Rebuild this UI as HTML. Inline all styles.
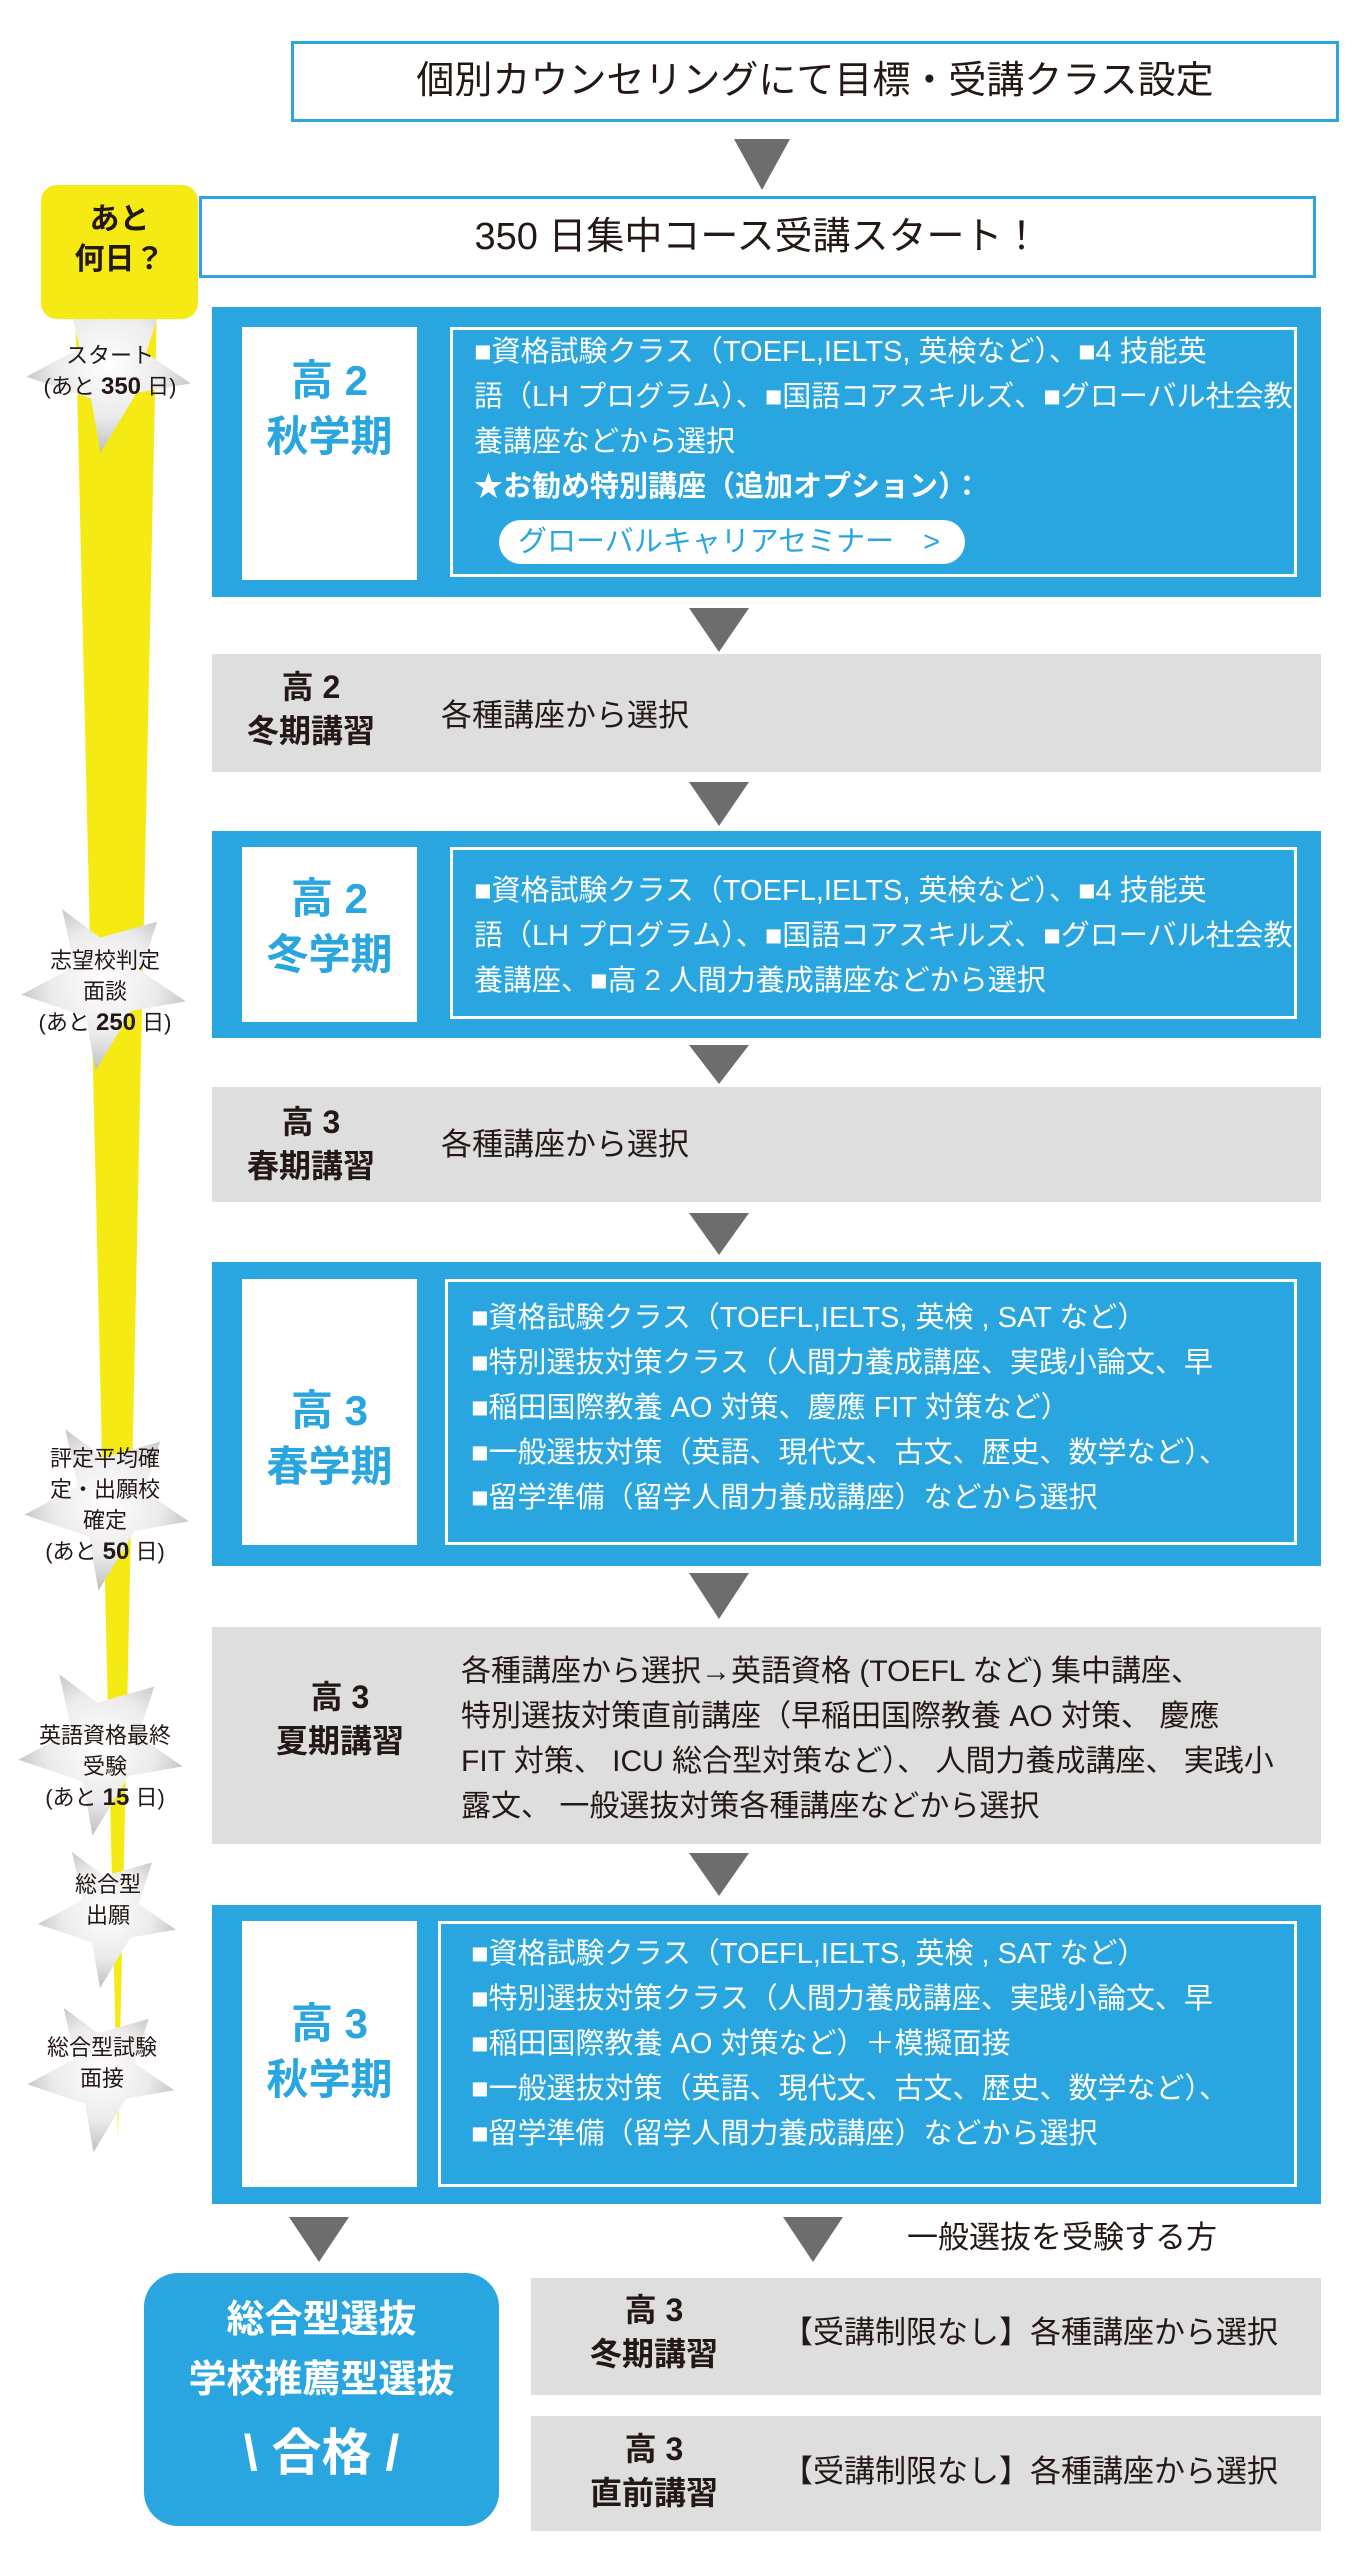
<!DOCTYPE html>
<html><head><meta charset="utf-8">
<style>
*{margin:0;padding:0;box-sizing:border-box}
body{width:1357px;height:2558px;position:relative;background:#fff;font-family:"Liberation Sans","Noto Sans CJK JP",sans-serif;color:#231815;overflow:hidden}
.a{position:absolute}
.blue{background:#29a6df}
.gray{background:#dedede}
.wb{background:#fff}
.ib{border:3px solid #fff}
.t{position:absolute;white-space:nowrap}
.bt{color:#fff;font-size:29px;letter-spacing:0;line-height:45px}
.lab{color:#29a6df;font-weight:bold;font-size:42px;text-align:center;line-height:56px}
.gl{font-weight:bold;font-size:32px;text-align:center;line-height:44px}
.st{position:absolute;text-align:center;font-size:22px;line-height:31px;color:#231815;white-space:nowrap}
.st b{font-size:24px}
</style></head><body>
<svg class="a" style="left:0;top:0" width="1357" height="2558">
<defs>
<radialGradient id="g" cx="0.5" cy="0.45" r="0.6"><stop offset="0" stop-color="#ffffff"/><stop offset="0.55" stop-color="#ebebeb"/><stop offset="1" stop-color="#b5b5b5"/></radialGradient>
<polygon id="s" points="-45,-85 -5,-55 55,-72 38,-20 85,12 28,22 -10,85 -20,28 -88,5 -32,-25" fill="url(#g)"/>
</defs>
<polygon points="75,300 157,300 118,2140" fill="#f5ea14"/>
<polygon points="734,139 790,139 762,190" fill="#6d6d6d"/>
<polygon points="689,608 749,608 719,652" fill="#6d6d6d"/>
<polygon points="689,782 749,782 719,826" fill="#6d6d6d"/>
<polygon points="689,1045 749,1045 719,1084" fill="#6d6d6d"/>
<polygon points="689,1213 749,1213 719,1255" fill="#6d6d6d"/>
<polygon points="689,1573 749,1573 719,1619" fill="#6d6d6d"/>
<polygon points="689,1853 749,1853 719,1896" fill="#6d6d6d"/>
<polygon points="289,2217 349,2217 319,2262" fill="#6d6d6d"/>
<polygon points="783,2217 843,2217 813,2262" fill="#6d6d6d"/>
<use href="#s" transform="translate(110,372) scale(0.95)"/>
<use href="#s" transform="translate(105,990) scale(0.95)"/>
<use href="#s" transform="translate(108,1510) scale(0.95)"/>
<use href="#s" transform="translate(102,1755) scale(0.95)"/>
<use href="#s" transform="translate(108,1920) scale(0.8)"/>
<use href="#s" transform="translate(102,2080) scale(0.85)"/>
</svg>

<div class="a" style="left:291px;top:41px;width:1048px;height:81px;border:3px solid #29a6df"></div>
<div class="t" style="left:291px;top:41px;width:1048px;line-height:81px;text-align:center;font-size:38px">個別カウンセリングにて目標・受講クラス設定</div>
<div class="a" style="left:41px;top:185px;width:157px;height:134px;background:#f5ea14;border-radius:16px"></div>
<div class="t" style="left:41px;top:200px;width:157px;text-align:center;font-weight:bold;font-size:30px;line-height:40px">あと<br>何日？</div>
<div class="a" style="left:199px;top:196px;width:1117px;height:82px;border:3px solid #29a6df;background:#fff"></div>
<div class="t" style="left:199px;top:196px;width:1117px;line-height:82px;text-align:center;font-size:38px">350 日集中コース受講スタート！</div>

<div class="a blue" style="left:212px;top:307px;width:1109px;height:290px"></div>
<div class="a wb" style="left:242px;top:327px;width:175px;height:253px"></div>
<div class="t lab" style="left:242px;top:353px;width:175px">高 2<br>秋学期</div>
<div class="a ib" style="left:450px;top:327px;width:847px;height:250px"></div>
<div class="t bt" style="left:474px;top:330px">■資格試験クラス（TOEFL,IELTS, 英検など）、■4 技能英<br>語（LH プログラム）、■国語コアスキルズ、■グローバル社会教<br>養講座などから選択<br><b>★お勧め特別講座（追加オプション）：</b></div>
<div class="a" style="left:499px;top:520px;width:466px;height:44px;background:#fff;border-radius:22px"></div>
<div class="t" style="left:518px;top:520px;line-height:44px;font-size:29px;color:#29a6df">グローバルキャリアセミナー　&gt;</div>

<div class="a gray" style="left:212px;top:654px;width:1109px;height:118px"></div>
<div class="t gl" style="left:231px;top:665px;width:160px">高 2<br>冬期講習</div>
<div class="t" style="left:441px;top:696px;font-size:31px;line-height:40px">各種講座から選択</div>

<div class="a blue" style="left:212px;top:831px;width:1109px;height:207px"></div>
<div class="a wb" style="left:242px;top:847px;width:175px;height:175px"></div>
<div class="t lab" style="left:242px;top:871px;width:175px">高 2<br>冬学期</div>
<div class="a ib" style="left:450px;top:847px;width:847px;height:172px"></div>
<div class="t bt" style="left:474px;top:869px">■資格試験クラス（TOEFL,IELTS, 英検など）、■4 技能英<br>語（LH プログラム）、■国語コアスキルズ、■グローバル社会教<br>養講座、■高 2 人間力養成講座などから選択</div>

<div class="a gray" style="left:212px;top:1087px;width:1109px;height:115px"></div>
<div class="t gl" style="left:231px;top:1100px;width:160px">高 3<br>春期講習</div>
<div class="t" style="left:441px;top:1125px;font-size:31px;line-height:40px">各種講座から選択</div>

<div class="a blue" style="left:212px;top:1262px;width:1109px;height:304px"></div>
<div class="a wb" style="left:242px;top:1279px;width:175px;height:266px"></div>
<div class="t lab" style="left:242px;top:1383px;width:175px">高 3<br>春学期</div>
<div class="a ib" style="left:445px;top:1279px;width:852px;height:266px"></div>
<div class="t bt" style="left:471px;top:1296px">■資格試験クラス（TOEFL,IELTS, 英検 , SAT など）<br>■特別選抜対策クラス（人間力養成講座、実践小論文、早<br>■稲田国際教養 AO 対策、慶應 FIT 対策など）<br>■一般選抜対策（英語、現代文、古文、歴史、数学など）、<br>■留学準備（留学人間力養成講座）などから選択</div>

<div class="a gray" style="left:212px;top:1627px;width:1109px;height:217px"></div>
<div class="t gl" style="left:260px;top:1675px;width:160px">高 3<br>夏期講習</div>
<div class="t" style="left:461px;top:1649px;font-size:30px;line-height:45px;letter-spacing:0">各種講座から選択→英語資格 (TOEFL など) 集中講座、<br>特別選抜対策直前講座（早稲田国際教養 AO 対策、 慶應<br>FIT 対策、 ICU 総合型対策など）、 人間力養成講座、 実践小<br>露文、 一般選抜対策各種講座などから選択</div>

<div class="a blue" style="left:212px;top:1905px;width:1109px;height:299px"></div>
<div class="a wb" style="left:242px;top:1921px;width:175px;height:266px"></div>
<div class="t lab" style="left:242px;top:1996px;width:175px">高 3<br>秋学期</div>
<div class="a ib" style="left:438px;top:1921px;width:859px;height:266px"></div>
<div class="t bt" style="left:471px;top:1932px">■資格試験クラス（TOEFL,IELTS, 英検 , SAT など）<br>■特別選抜対策クラス（人間力養成講座、実践小論文、早<br>■稲田国際教養 AO 対策など）＋模擬面接<br>■一般選抜対策（英語、現代文、古文、歴史、数学など）、<br>■留学準備（留学人間力養成講座）などから選択</div>

<div class="t" style="left:907px;top:2218px;font-size:31px;line-height:40px">一般選抜を受験する方</div>

<div class="a blue" style="left:144px;top:2273px;width:355px;height:253px;border-radius:34px"></div>
<div class="t" style="left:144px;top:2290px;width:355px;text-align:center;color:#fff;font-weight:bold;font-size:38px;line-height:60px">総合型選抜<br>学校推薦型選抜</div>
<div class="t" style="left:144px;top:2420px;width:355px;text-align:center;color:#fff;font-weight:bold;font-size:50px;line-height:66px">\ 合格 /</div>

<div class="a gray" style="left:531px;top:2278px;width:790px;height:117px"></div>
<div class="t gl" style="left:574px;top:2288px;width:160px">高 3<br>冬期講習</div>
<div class="t" style="left:782px;top:2313px;font-size:31px;line-height:40px">【受講制限なし】各種講座から選択</div>
<div class="a gray" style="left:531px;top:2416px;width:790px;height:115px"></div>
<div class="t gl" style="left:574px;top:2427px;width:160px">高 3<br>直前講習</div>
<div class="t" style="left:782px;top:2452px;font-size:31px;line-height:40px">【受講制限なし】各種講座から選択</div>

<div class="st" style="left:20px;top:340px;width:180px">スタート<br>(あと <b>350</b> 日)</div>
<div class="st" style="left:15px;top:945px;width:180px">志望校判定<br>面談<br>(あと <b>250</b> 日)</div>
<div class="st" style="left:15px;top:1443px;width:180px">評定平均確<br>定・出願校<br>確定<br>(あと <b>50</b> 日)</div>
<div class="st" style="left:15px;top:1720px;width:180px">英語資格最終<br>受験<br>(あと <b>15</b> 日)</div>
<div class="st" style="left:18px;top:1869px;width:180px">総合型<br>出願</div>
<div class="st" style="left:12px;top:2032px;width:180px">総合型試験<br>面接</div>
</body></html>
